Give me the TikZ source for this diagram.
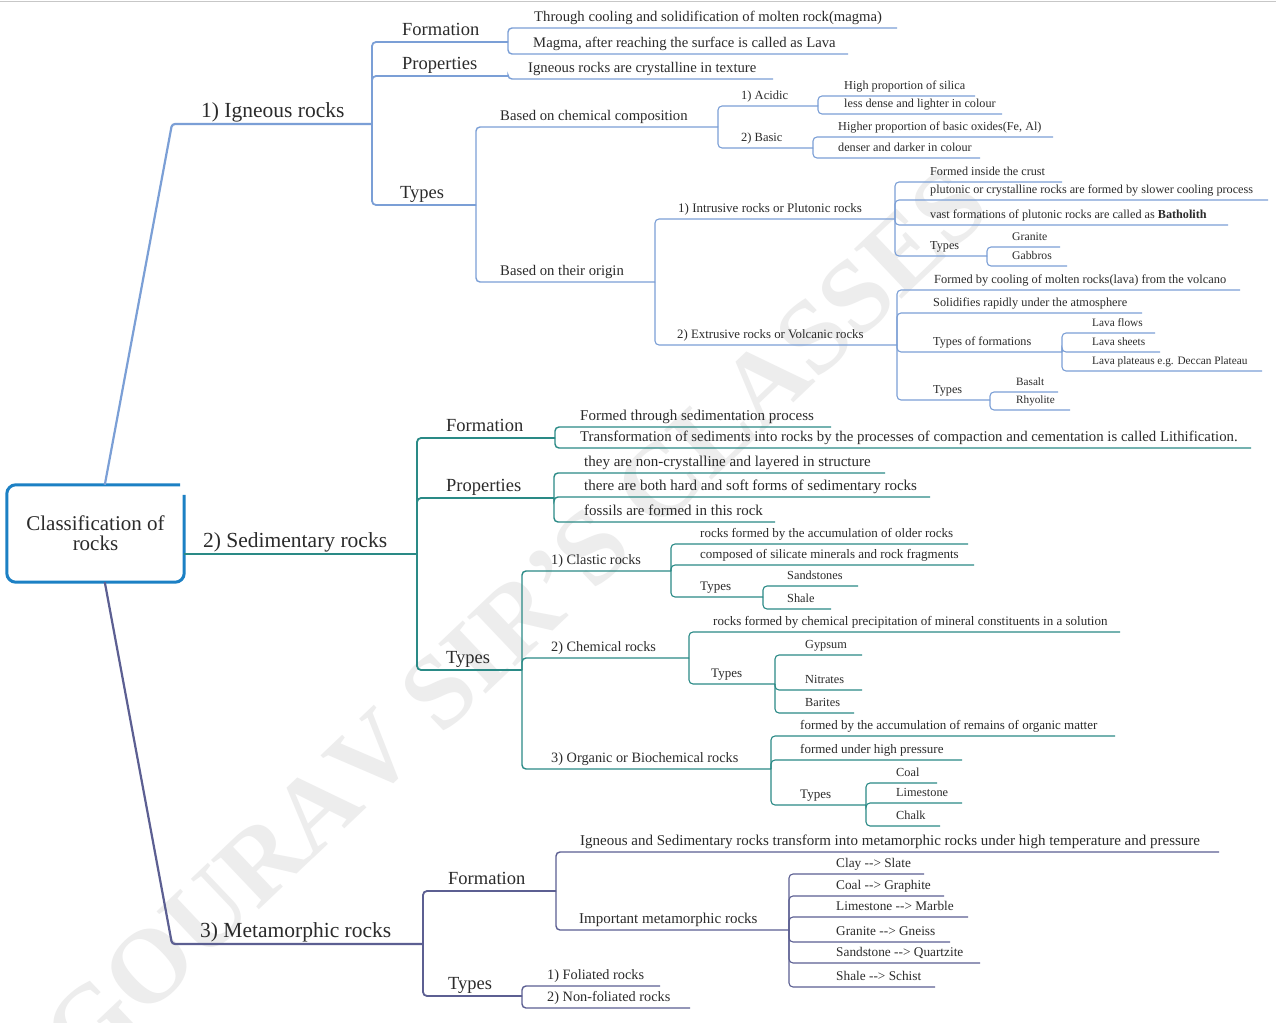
\documentclass[tikz,border=0pt]{standalone}
\usepackage{fontspec}
\setmainfont{Liberation Serif}
\usetikzlibrary{calc}

\definecolor{ignc}{HTML}{7B9FD6}
\definecolor{sedc}{HTML}{2A8A86}
\definecolor{metc}{HTML}{5C5F92}
\definecolor{rootc}{HTML}{1C80C4}
\definecolor{inkc}{HTML}{2B2B2B}

\newcommand{\fsz}[1]{\fontsize{#1}{#1}\selectfont}

\tikzset{
  lbl/.style={anchor=base west, inner sep=0pt, text=inkc},
  wmark/.style={anchor=base west, rotate=43.5, inner sep=0pt, outer sep=0pt,
                text=black!7, font=\fsz{105}\bfseries},
  ign/.style={draw=ignc},
  sed/.style={draw=sedc},
  met/.style={draw=metc},
  lv1/.style={line width=2.2pt, rounded corners=3pt},
  lv2/.style={line width=1.8pt, rounded corners=4pt},
  lv3/.style={line width=1.4pt, rounded corners=4pt},
  lv4/.style={line width=1.1pt, rounded corners=4pt},
}

% topic: name, parent, text x, underline y, underline end x, line style, font size, text
\newcommand{\mmtopic}[8]{%
  \coordinate (#1) at (#5,#4);
  \node[lbl, font=\fsz{#7}] (#1-lbl) at (#3,#4-6.5) {#8};
  \draw[#6] (#2) |- (#1);
}

\begin{document}
\begin{tikzpicture}[x=1pt,y=-1pt]
\useasboundingbox (0,0) rectangle (1276,1022);
\fill[white] (0,0) rectangle (1276,1022);
\draw[black!22, line width=1pt] (0,1.5) -- (1276,1.5);

% background watermark, one letter per node along a diagonal baseline
\foreach \ch [count=\i] in {G,O,U,R,A,V,{\hspace*{0.25em}},S,I,R,',S,{\hspace*{0.25em}},C,L,A,S,S,E,S}{
  \ifnum\i=1
    \node[wmark] (wm1) at (84,1076) {\ch};
  \else
    \pgfmathtruncatemacro{\j}{\i-1}
    \node[wmark] (wm\i) at (wm\j.base east) {\ch};
  \fi
}

% central topic
\node[font=\fsz{21}, text=inkc, align=center, minimum width=177pt, minimum height=97pt, inner sep=0pt] (root) at (95.5,533.5) {Classification of\\[-1pt]rocks};
\draw[rootc, line width=3pt, rounded corners=9pt]
  ([xshift=-4pt]root.north east) -- (root.north west) -- (root.south west)
  -- (root.south east) -- ([yshift=-10pt]root.north east);

% ---------- 1) Igneous rocks ----------
\coordinate (ign) at (372,124);
\node[lbl, font=\fsz{21.5}] (ign-lbl) at (201,124-6.5) {1) Igneous rocks};
\draw[ign,lv1] ([xshift=98pt]root.north west) -- (172,124) -- (ign);

\mmtopic{ign-f}{ign}{402}{42}{508}{ign,lv2}{18.5}{Formation}
\mmtopic{ign-p}{ign}{402}{76}{508}{ign,lv2}{18.5}{Properties}
\mmtopic{ign-t}{ign}{400}{205}{476}{ign,lv2}{18.5}{Types}

\mmtopic{ign-f1}{ign-f}{534}{28}{897}{ign,lv3}{14.7}{Through cooling and solidification of molten rock(magma)}
\mmtopic{ign-f2}{ign-f}{533}{54}{848}{ign,lv3}{14.7}{Magma, after reaching the surface is called as Lava}
\mmtopic{ign-p1}{ign-p}{528}{79}{773}{ign,lv3}{14.7}{Igneous rocks are crystalline in texture}
\mmtopic{ign-c}{ign-t}{500}{127}{718}{ign,lv3}{14.7}{Based on chemical composition}
\mmtopic{ign-o}{ign-t}{500}{282}{655}{ign,lv3}{14.7}{Based on their origin}

\mmtopic{ign-ac}{ign-c}{741}{106}{818}{ign,lv4}{12.5}{1) Acidic}
\mmtopic{ign-ba}{ign-c}{741}{148}{813}{ign,lv4}{12.5}{2) Basic}
\mmtopic{ign-ac1}{ign-ac}{844}{96}{975}{ign,lv4}{12.2}{High proportion of silica}
\mmtopic{ign-ac2}{ign-ac}{844}{114}{1002}{ign,lv4}{12.2}{less dense and lighter in colour}
\mmtopic{ign-ba1}{ign-ba}{838}{137}{1053}{ign,lv4}{12.2}{Higher proportion of basic oxides(Fe, Al)}
\mmtopic{ign-ba2}{ign-ba}{838}{158}{980}{ign,lv4}{12.2}{denser and darker in colour}

\mmtopic{ign-in}{ign-o}{678}{219}{895}{ign,lv4}{13}{1) Intrusive rocks or Plutonic rocks}
\mmtopic{ign-ex}{ign-o}{677}{345}{897}{ign,lv4}{12.8}{2) Extrusive rocks or Volcanic rocks}

\mmtopic{ign-in1}{ign-in}{930}{182}{1062}{ign,lv4}{12.2}{Formed inside the crust}
\mmtopic{ign-in2}{ign-in}{930}{200}{1268}{ign,lv4}{12.2}{plutonic or crystalline rocks are formed by slower cooling process}
\mmtopic{ign-in3}{ign-in}{930}{225}{1228}{ign,lv4}{12.2}{vast formations of plutonic rocks are called as \textbf{Batholith}}
\mmtopic{ign-in4}{ign-in}{930}{256}{987}{ign,lv4}{12.2}{Types}
\mmtopic{ign-gr}{ign-in4}{1012}{247}{1060}{ign,lv4}{11.7}{Granite}
\mmtopic{ign-ga}{ign-in4}{1012}{266}{1067}{ign,lv4}{11.7}{Gabbros}

\mmtopic{ign-ex1}{ign-ex}{934}{290}{1240}{ign,lv4}{12.4}{Formed by cooling of molten rocks(lava) from the volcano}
\mmtopic{ign-ex2}{ign-ex}{933}{313}{1142}{ign,lv4}{12.3}{Solidifies rapidly under the atmosphere}
\mmtopic{ign-ex3}{ign-ex}{933}{352}{1062}{ign,lv4}{12.2}{Types of formations}
\mmtopic{ign-ex4}{ign-ex}{933}{400}{990}{ign,lv4}{12.2}{Types}
\mmtopic{ign-lf}{ign-ex3}{1092}{333}{1155}{ign,lv4}{11.3}{Lava flows}
\mmtopic{ign-ls}{ign-ex3}{1092}{352}{1160}{ign,lv4}{11.3}{Lava sheets}
\mmtopic{ign-lp}{ign-ex3}{1092}{371}{1262}{ign,lv4}{11.3}{Lava plateaus e.g. Deccan Plateau}
\mmtopic{ign-bs}{ign-ex4}{1016}{392}{1058}{ign,lv4}{11.2}{Basalt}
\mmtopic{ign-rh}{ign-ex4}{1016}{410}{1070}{ign,lv4}{11.2}{Rhyolite}

% ---------- 2) Sedimentary rocks ----------
\coordinate (sed) at (417,554);
\node[lbl, font=\fsz{21.5}] (sed-lbl) at (203,554-6.5) {2) Sedimentary rocks};
\draw[sed,lv1] (root.east |- sed) -- (sed);

\mmtopic{sed-f}{sed}{446}{438}{555}{sed,lv2}{18.5}{Formation}
\mmtopic{sed-p}{sed}{446}{498}{554}{sed,lv2}{18.5}{Properties}
\mmtopic{sed-t}{sed}{446}{670}{522}{sed,lv2}{18.5}{Types}

\mmtopic{sed-f1}{sed-f}{580}{427}{831}{sed,lv3}{15}{Formed through sedimentation process}
\mmtopic{sed-f2}{sed-f}{580}{448}{1251}{sed,lv3}{14.8}{Transformation of sediments into rocks by the processes of compaction and cementation is called Lithification.}
\mmtopic{sed-p1}{sed-p}{584}{473}{885}{sed,lv3}{15}{they are non-crystalline and layered in structure}
\mmtopic{sed-p2}{sed-p}{584}{497}{930}{sed,lv3}{15}{there are both hard and soft forms of sedimentary rocks}
\mmtopic{sed-p3}{sed-p}{584}{522}{775}{sed,lv3}{15}{fossils are formed in this rock}

\mmtopic{sed-cl}{sed-t}{551}{571}{671}{sed,lv3}{14.3}{1) Clastic rocks}
\mmtopic{sed-ch}{sed-t}{551}{658}{689}{sed,lv3}{14.3}{2) Chemical rocks}
\mmtopic{sed-or}{sed-t}{551}{769}{771}{sed,lv3}{14.3}{3) Organic or Biochemical rocks}

\mmtopic{sed-cl1}{sed-cl}{700}{544}{968}{sed,lv4}{13}{rocks formed by the accumulation of older rocks}
\mmtopic{sed-cl2}{sed-cl}{700}{565}{974}{sed,lv4}{13}{composed of silicate minerals and rock fragments}
\mmtopic{sed-cl3}{sed-cl}{700}{597}{763}{sed,lv4}{13}{Types}
\mmtopic{sed-ss}{sed-cl3}{787}{586}{858}{sed,lv4}{12.3}{Sandstones}
\mmtopic{sed-sh}{sed-cl3}{787}{609}{831}{sed,lv4}{12.3}{Shale}

\mmtopic{sed-ch1}{sed-ch}{713}{632}{1120}{sed,lv4}{13}{rocks formed by chemical precipitation of mineral constituents in a solution}
\mmtopic{sed-ch2}{sed-ch}{711}{684}{775}{sed,lv4}{13}{Types}
\mmtopic{sed-gy}{sed-ch2}{805}{655}{862}{sed,lv4}{12.3}{Gypsum}
\mmtopic{sed-ni}{sed-ch2}{805}{690}{862}{sed,lv4}{12.3}{Nitrates}
\mmtopic{sed-ba}{sed-ch2}{805}{713}{854}{sed,lv4}{12.3}{Barites}

\mmtopic{sed-or1}{sed-or}{800}{736}{1115}{sed,lv4}{13}{formed by the accumulation of remains of organic matter}
\mmtopic{sed-or2}{sed-or}{800}{760}{962}{sed,lv4}{13}{formed under high pressure}
\mmtopic{sed-or3}{sed-or}{800}{805}{866}{sed,lv4}{13}{Types}
\mmtopic{sed-co}{sed-or3}{896}{783}{937}{sed,lv4}{12.3}{Coal}
\mmtopic{sed-li}{sed-or3}{896}{803}{962}{sed,lv4}{12.3}{Limestone}
\mmtopic{sed-ck}{sed-or3}{896}{826}{940}{sed,lv4}{12.3}{Chalk}

% ---------- 3) Metamorphic rocks ----------
\coordinate (met) at (423,944);
\node[lbl, font=\fsz{21.5}] (met-lbl) at (200,944-6.5) {3) Metamorphic rocks};
\draw[met,lv1] ([xshift=98pt]root.south west) -- (172,944) -- (met);

\mmtopic{met-f}{met}{448}{891}{556}{met,lv2}{18.5}{Formation}
\mmtopic{met-t}{met}{448}{996}{522}{met,lv2}{18.5}{Types}

\mmtopic{met-f1}{met-f}{580}{852}{1219}{met,lv3}{15}{Igneous and Sedimentary rocks transform into metamorphic rocks under high temperature and pressure}
\mmtopic{met-f2}{met-f}{579}{930}{789}{met,lv3}{15}{Important metamorphic rocks}

\mmtopic{met-m1}{met-f2}{836}{874}{924}{met,lv4}{13.3}{Clay -{}-> Slate}
\mmtopic{met-m2}{met-f2}{836}{896}{944}{met,lv4}{13.3}{Coal -{}-> Graphite}
\mmtopic{met-m3}{met-f2}{836}{917}{968}{met,lv4}{13.3}{Limestone -{}-> Marble}
\mmtopic{met-m4}{met-f2}{836}{942}{950}{met,lv4}{13.3}{Granite -{}-> Gneiss}
\mmtopic{met-m5}{met-f2}{836}{963}{980}{met,lv4}{13.3}{Sandstone -{}-> Quartzite}
\mmtopic{met-m6}{met-f2}{836}{987}{935}{met,lv4}{13.3}{Shale -{}-> Schist}

\mmtopic{met-t1}{met-t}{547}{986}{660}{met,lv3}{14.3}{1) Foliated rocks}
\mmtopic{met-t2}{met-t}{547}{1008}{690}{met,lv3}{14.3}{2) Non-foliated rocks}
\end{tikzpicture}
\end{document}
